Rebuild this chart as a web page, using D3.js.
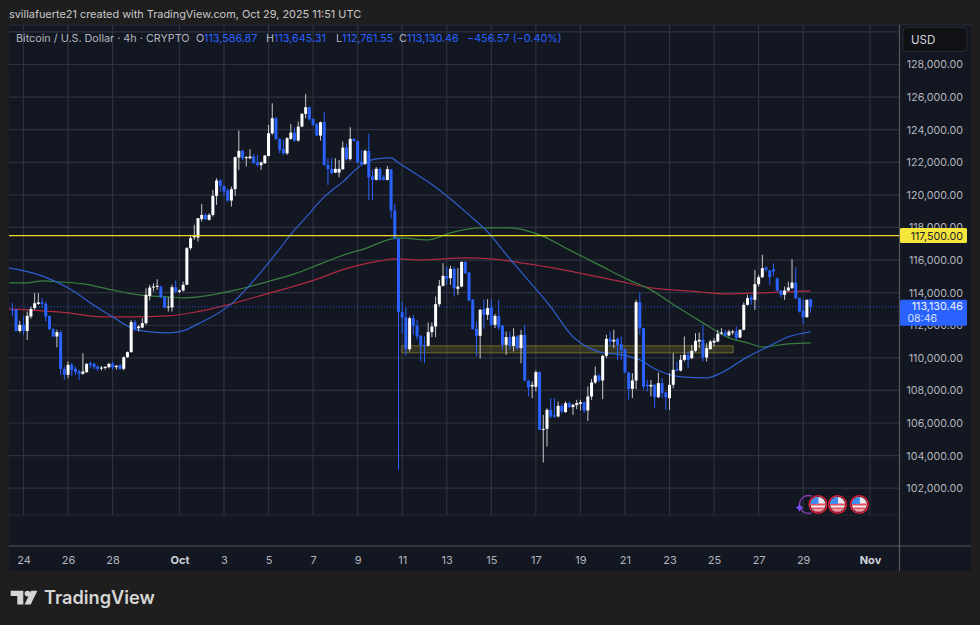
<!DOCTYPE html>
<html><head><meta charset="utf-8">
<script src="https://cdnjs.cloudflare.com/ajax/libs/d3/7.8.5/d3.min.js"></script>
<style>html,body{margin:0;padding:0;background:#1e1e1e;overflow:hidden}svg{display:block}text{font-family:Inter,"Liberation Sans",sans-serif}</style>
</head><body>
<script>
const firstCandle = "2025-09-23T12:00:00Z", candleHours = 4;
const opens = [112985,112950,111650,112025,111650,112535,113050,113310,113400,113310,112570,111760,111310,111575,109325,108960,109570,109325,109160,109020,109120,109670,109630,109470,109345,109405,109430,109630,109430,109550,109325,110040,110350,112190,111820,111860,112130,113800,114315,114355,114375,113720,113125,113090,114335,114050,114130,114480,116730,117400,117380,118510,118770,118470,118770,119940,120880,120550,120265,119650,120350,122290,122700,122250,122250,122350,122000,121820,121940,122390,123780,124700,123435,122800,122550,123435,123820,123330,124190,124970,125380,124660,124335,123640,124460,121840,121595,121370,121370,121575,122900,122190,123435,123310,122040,121900,122700,121125,120920,121595,121080,120920,121575,119040,117300,112800,112475,110530,112430,111960,111350,110800,110740,111575,111920,113290,114420,115030,114890,115460,114235,114375,115890,115235,113560,111780,111350,112985,112640,113090,112025,112575,111960,110800,111270,110735,111310,110595,111410,108590,108240,108220,109120,105580,105645,106810,106500,106400,107055,106670,107220,106975,107095,107175,107280,106770,107628,108487,108916,108610,110123,111166,111002,111166,110839,110532,109100,108098,108610,113415,111820,108344,108242,108344,107587,108446,107873,107526,108344,109305,109223,109877,110184,109980,110430,111002,111105,110021,110532,110941,111002,111514,111554,111370,111554,111616,111248,111718,113251,113720,113560,114520,114950,115540,115357,115440,114887,114130,113865,114130,114275,114620,113660,112900,112495,113586.87];
const closes = [112900,111650,112025,111650,112575,113000,113350,113400,113310,112535,111760,111310,111575,109325,108960,109570,109260,109120,109020,109160,109630,109570,109430,109325,109400,109440,109630,109410,109510,109325,110040,110350,112190,111780,111920,112130,113865,114315,114375,114420,113720,113090,113150,114335,114070,114130,114480,116730,117340,117500,118570,118770,118510,118770,119940,120880,120550,120200,119650,120350,122310,122700,122250,122310,122350,121940,121840,121980,122410,123780,124700,123435,122760,122550,123480,123820,123330,124190,124970,125380,124640,124295,123640,124460,121840,121595,121330,121595,121595,122900,122190,123435,123310,122000,121900,122700,121080,120920,121595,120920,120920,121575,119040,117340,112800,112475,110550,112430,111960,111310,110760,110760,111575,111920,113290,114420,115030,114845,115460,114275,114375,115890,115195,113520,111760,111350,112945,112640,113050,112025,112575,111880,110800,111270,110760,111310,110595,111410,108610,108180,108340,109120,105580,105640,106810,106400,106400,107055,106710,107220,106975,107115,107220,107280,106770,107628,108487,108916,108610,110123,111166,111002,111105,110798,110491,109100,108098,108610,113415,111820,108242,108242,108344,107587,108446,107833,107587,108344,109264,109223,109877,110184,109877,110430,111043,111105,110021,110593,111002,111043,111473,111554,111370,111616,111616,111207,111718,113251,113660,113560,114520,114950,115500,115400,114950,115300,114130,113865,114130,114315,114620,113660,112840,112495,113557,113130.46];
const highs = [113350,113000,112270,112535,112840,113150,113970,113970,113650,113450,112600,111820,111720,111680,109470,109775,109670,109470,109260,110285,109670,109770,109700,109530,109500,109500,109700,109770,109560,109620,110090,110390,112330,112330,112020,112430,114270,114480,114580,114825,114415,113760,113720,114480,114745,114210,114680,116800,117550,118160,118570,119450,118870,118870,120300,121020,120960,120610,120400,120510,122350,123950,122770,122390,122800,122500,122450,122040,122450,124290,125620,124800,123480,123370,123540,124350,124150,124500,125020,126180,125420,124700,124400,124500,125110,122250,122250,122250,122150,123270,123150,124150,123480,123310,122760,122780,123745,121530,121700,121700,121200,121780,121575,119450,117400,113455,113100,112530,112640,112330,111410,111310,112165,112165,113760,114785,115810,115600,115645,115600,115500,115910,115910,115280,113600,112230,113000,113560,113600,113600,112700,113560,112025,111615,111615,111820,111400,111720,112025,108650,108550,109225,109170,106500,106900,107525,107525,107320,107180,107320,107320,107180,107425,107425,107320,108240,108700,109470,109000,110184,111411,111616,111718,111248,111309,110560,109120,109060,113560,114008,111840,108650,108650,108400,109100,108753,107935,109060,110286,109775,110184,111309,110389,110798,111514,111554,112025,110900,111105,111207,111718,111820,111718,111718,111718,111923,111759,113400,113865,113865,115400,115090,116320,115620,115400,115800,114910,114170,114375,114680,116050,115560,113700,113560,113580,113645.31];
const lows = [112535,111600,111550,111410,111100,112400,112950,113250,113050,112230,111720,111270,110650,108960,108650,108750,108900,108960,108650,108960,109080,109350,109290,109180,109220,109270,109360,109270,109270,109260,109230,110000,110320,111620,111620,111820,112025,113520,114070,114170,113650,113050,112840,112840,113970,113970,114070,114480,116630,117240,117140,118360,118460,118420,118670,119390,120200,119940,119590,119285,119940,121530,122130,121740,122190,121900,121720,121530,121900,122350,123680,123370,122550,122450,122450,123380,123270,123270,124150,124700,124560,124240,123580,123330,121780,120610,121280,121330,121080,121530,122120,122100,123270,121940,121840,121840,119690,119690,120880,120880,120880,120880,118570,117260,103130,111500,110140,110390,111410,111100,109775,109670,110700,111270,111270,113150,114375,114480,114480,113760,113865,114330,115150,113460,111740,110090,109960,111780,112330,111920,111820,111720,110490,110185,110490,110390,110490,109670,108550,107630,107525,107935,105580,103580,104560,106300,106300,106340,106600,106620,106930,106500,106850,106770,106620,106135,107423,108400,108500,107465,109980,110695,110593,109877,109877,109060,107423,107526,108078,111411,108037,107935,107628,106912,107526,107526,106810,106810,108140,109162,109162,109775,109366,109918,110348,110593,109775,109775,110491,110695,110960,111411,111309,111309,111411,111105,111207,111677,113210,113251,112945,114376,114890,115290,114480,115000,114070,113720,113560,114070,114210,113600,112780,112085,112450,112761.55];

const maBlueAt = [-1,8,15,23,27,32,37,42,46,50,59,64,69,72,76,78,84,89,94,98,102,104,107,115,123,129,132,137,145,151,153,158,164,169,173,180,187,191,198,204,209,215];
const maBlue = [115520,115030,114295,113070,112515,111840,111595,111535,111655,112085,113313,114480,115830,116687,117853,118345,119875,120800,121840,122210,122270,121965,121535,120305,118770,117485,116625,115275,113130,111290,110920,110370,110185,109875,109325,108835,108770,109080,110060,110735,111290,111595];
const maGreenAt = [-1,4,8,12,19,27,34,42,46,50,59,69,76,83,91,94,104,112,118,126,134,142,150,158,166,172,179,186,193,198,202,209,215];
const maGreen = [114600,114600,114725,114665,114540,114170,113865,113740,113680,113740,114110,114693,115153,115767,116440,116625,117360,117240,117670,117975,117975,117545,116625,115705,114785,114170,113130,112145,111225,110920,110675,110860,110920];
const maRedAt = [-1,8,15,24,32,42,50,59,69,78,83,88,99,103,110,122,129,137,147,155,163,172,182,193,202,215];
const maRed = [113005,112885,112760,112515,112515,112575,112840,113313,113960,114540,114908,115335,115950,116075,116010,116135,116075,115830,115460,115090,114725,114295,114110,113925,113990,114110];

const priceTicks = [102000,104000,106000,108000,110000,112000,114000,116000,118000,120000,122000,124000,126000,128000];
const gridPrices = priceTicks.concat([130000]);
const dateTicks = ["2025-09-24","2025-09-26","2025-09-28","2025-10-01","2025-10-03","2025-10-05","2025-10-07","2025-10-09","2025-10-11","2025-10-13","2025-10-15","2025-10-17","2025-10-19","2025-10-21","2025-10-23","2025-10-25","2025-10-27","2025-10-29","2025-11-01"];
const dateLabels = ["24","26","28","Oct","3","5","7","9","11","13","15","17","19","21","23","25","27","29","Nov"];
const resistance = 117500, lastPrice = 113130.46;
const zoneTimes = ["2025-10-10T23:30:00Z","2025-10-25T20:30:00Z"], zonePrices = [110736,110307];
const flagTimes = ["2025-10-29T16:00:00Z","2025-10-30T13:00:00Z","2025-10-31T12:30:00Z"];
const starTime = "2025-10-28T20:00:00Z", eventPrice = 101000;

const W=980,H=625,panelL=9,panelR=971,panelT=25,panelB=571,axisX=899.5,paneBottom=515,timeY=546;
const svg=d3.select("body").append("svg").attr("width",W).attr("height",H);
svg.append("rect").attr("width",W).attr("height",H).attr("fill","#1e1e1e");
svg.append("rect").attr("x",panelL).attr("y",panelT).attr("width",panelR-panelL).attr("height",panelB-panelT).attr("fill","#131722");

const x=d3.scaleUtc().domain([new Date("2025-09-24T00:00:00Z"),new Date("2025-11-01T00:00:00Z")]).range([23.5,870]);
const y=d3.scaleLinear().domain([102000,128000]).range([488.2,64.5]);
const t0=+new Date(firstCandle), hour=3600e3;
const tOf=i=>new Date(t0+i*candleHours*hour);

svg.append("defs").append("clipPath").attr("id","plot").append("rect").attr("x",panelL).attr("y",panelT).attr("width",axisX-panelL).attr("height",timeY-panelT);

// grid
const grid=svg.append("g").attr("stroke","#2e3240").attr("stroke-width",1.2);
grid.selectAll(".h").data(gridPrices).join("line").attr("class","h").attr("x1",panelL).attr("x2",axisX).attr("y1",d=>y(d)).attr("y2",d=>y(d));
grid.selectAll(".v").data(dateTicks).join("line").attr("class","v").attr("x1",d=>x(new Date(d+"T00:00:00Z"))).attr("x2",d=>x(new Date(d+"T00:00:00Z"))).attr("y1",panelT).attr("y2",paneBottom);
svg.append("line").attr("x1",panelL).attr("x2",panelR).attr("y1",panelT).attr("y2",panelT).attr("stroke","#262a36");
svg.append("line").attr("x1",panelL).attr("x2",axisX).attr("y1",paneBottom).attr("y2",paneBottom).attr("stroke","#262a36");
svg.append("line").attr("x1",panelL).attr("x2",panelR).attr("y1",timeY).attr("y2",timeY).attr("stroke","#55585f").attr("stroke-width",1.2);
svg.append("line").attr("x1",axisX).attr("x2",axisX).attr("y1",panelT).attr("y2",panelB).attr("stroke","#55585f").attr("stroke-width",1.2);

const plot=svg.append("g").attr("clip-path","url(#plot)");
// zone
plot.append("rect").attr("x",x(new Date(zoneTimes[0]))).attr("width",x(new Date(zoneTimes[1]))-x(new Date(zoneTimes[0])))
 .attr("y",y(zonePrices[0])).attr("height",y(zonePrices[1])-y(zonePrices[0]))
 .attr("fill","#b8a62e").attr("fill-opacity",.2).attr("stroke","#6f682e").attr("stroke-width",1);
// moving averages
const line=(at,v)=>d3.line().x((d,i)=>x(tOf(at[i]))).y(d=>y(d)).curve(d3.curveMonotoneX)(v);
[[maRedAt,maRed,"#b02a40"],[maGreenAt,maGreen,"#39803f"],[maBlueAt,maBlue,"#2e5fcf"]].forEach(([a,v,c])=>{
 plot.append("path").attr("d",line(a,v)).attr("fill","none").attr("stroke",c).attr("stroke-width",1.2);
});
// last price dotted, resistance
plot.append("line").attr("x1",panelL).attr("x2",axisX).attr("y1",y(lastPrice)).attr("y2",y(lastPrice)).attr("stroke","#2962ff").attr("stroke-width",1).attr("stroke-dasharray","1 2").attr("stroke-opacity",.8);
// candles
const idx=d3.range(opens.length);
const colour=i=>closes[i]>=opens[i]?"#ffffff":"#2962ff";
const wickColour=i=>closes[i]>=opens[i]?"#c9c9cd":"#2962ff";
plot.append("g").selectAll("line").data(idx).join("line")
 .attr("x1",i=>x(tOf(i))).attr("x2",i=>x(tOf(i))).attr("y1",i=>y(highs[i])).attr("y2",i=>y(lows[i]))
 .attr("stroke",wickColour).attr("stroke-width",1);
plot.append("g").selectAll("rect").data(idx).join("rect")
 .attr("x",i=>x(tOf(i))-1.5).attr("width",3)
 .attr("y",i=>y(Math.max(opens[i],closes[i])))
 .attr("height",i=>Math.max(1,Math.abs(y(opens[i])-y(closes[i]))))
 .attr("fill",colour);
plot.append("line").attr("x1",panelL).attr("x2",axisX).attr("y1",y(resistance)).attr("y2",y(resistance)).attr("stroke","#eeda22").attr("stroke-width",1.3);

// events
const evY=y(eventPrice);
const starX=x(new Date(starTime));
plot.append("circle").attr("cx",starX+9).attr("cy",evY).attr("r",9).attr("fill","none").attr("stroke","#8e3fb5").attr("stroke-width",1.3);
plot.append("path").attr("transform",`translate(${starX},${evY+3})`).attr("d","M0-4.5Q.8-.8 4 0Q.8.8 0 4.5Q-.8.8-4 0Q-.8-.8 0-4.5Z").attr("fill","#7a4dff");
flagTimes.forEach((t,k)=>{
 const g=plot.append("g").attr("transform",`translate(${x(new Date(t))},${evY})`);
 g.append("circle").attr("r",10.4).attr("fill","#131722");
 g.append("clipPath").attr("id","f"+k).append("circle").attr("r",7.5);
 const c=g.append("g").attr("clip-path",`url(#f${k})`);
 c.append("rect").attr("x",-8).attr("y",-8).attr("width",16).attr("height",16).attr("fill","#ecedf2");
 [-1,3,6].forEach(s=>c.append("rect").attr("x",-8).attr("y",s).attr("width",16).attr("height",2).attr("fill","#e8505b"));
 c.append("rect").attr("x",-8).attr("y",-8).attr("width",8.5).attr("height",7.5).attr("fill","#3f8cf0");
 g.append("circle").attr("r",8.8).attr("fill","none").attr("stroke","#e0213a").attr("stroke-width",1.5);
});

// axes
const yAxis=d3.axisRight(y).tickValues(priceTicks).tickFormat(d3.format(",.2f")).tickSize(0);
const yg=svg.append("g").attr("transform",`translate(${axisX},0)`).call(yAxis);
yg.select(".domain").remove();
yg.selectAll("text").attr("x",63.5).attr("text-anchor","end").attr("fill","#b2b5be").style("font-size","10.7px").style("font-family","Inter");
const xAxis=d3.axisBottom(x).tickValues(dateTicks.map(d=>new Date(d+"T00:00:00Z"))).tickFormat((d,i)=>dateLabels[i]).tickSize(0);
const xg=svg.append("g").attr("transform",`translate(0,${timeY})`).call(xAxis);
xg.select(".domain").remove();
xg.selectAll("text").attr("y",10).attr("fill",(d,i)=>(dateLabels[i]=="Oct"||dateLabels[i]=="Nov")?"#d1d4dc":"#b2b5be")
 .style("font-weight",(d,i)=>(dateLabels[i]=="Oct"||dateLabels[i]=="Nov")?"700":"400").style("font-size","11px").style("font-family","Inter");

// price labels
const label=(py,ph,fill)=>svg.append("rect").attr("x",axisX+.5).attr("y",py).attr("width",67).attr("height",ph).attr("rx",1.5).attr("fill",fill);
label(y(resistance)-7.5,15,"#f5e63c");
svg.append("text").attr("x",963).attr("y",y(resistance)+4).attr("text-anchor","end").attr("fill","#222").style("font-size","10.7px").text(d3.format(",.2f")(resistance));
label(y(lastPrice)-7,26,"#2962ff");
svg.append("text").attr("x",963).attr("y",y(lastPrice)+3.5).attr("text-anchor","end").attr("fill","#f0f3fa").style("font-size","10.7px").text(d3.format(",.2f")(lastPrice));
svg.append("text").attr("x",907.5).attr("y",y(lastPrice)+15.5).attr("fill","#dbe4fb").style("font-size","10.5px").text("08:46");

// USD button
svg.append("rect").attr("x",903).attr("y",27.5).attr("width",64).attr("height",24).attr("rx",4).attr("fill","#101114").attr("stroke","#2a2b30");
svg.append("text").attr("x",911).attr("y",43.5).attr("fill","#d1d4dc").style("font-size","11.5px").text("USD");

// header
svg.append("text").attr("x",9).attr("y",18).attr("fill","#c9c9c9").style("font-size","10.9px").text("svillafuerte21 created with TradingView.com, Oct 29, 2025 11:51 UTC");
const legendGrey="#b2b5be",legendBlue="#2962ff";
const hd=[["Bitcoin / U.S. Dollar · 4h · CRYPTO",16,legendGrey],["O",196,legendGrey],["113,586.87",204,legendBlue],["H",266,legendGrey],["113,645.31",274,legendBlue],["L",336,legendGrey],["112,761.55",342,legendBlue],["C",399,legendGrey],["113,130.46",407,legendBlue],["−456.57 (−0.40%)",467,legendBlue]];
hd.forEach(([s,px,c])=>svg.append("text").attr("x",px).attr("y",42).attr("fill",c).style("font-size","10.8px").text(s));

// logo
const logo=svg.append("g").attr("fill","#d6d6d6");
logo.append("path").attr("d","M10.7 590.7H23.3V604.4H17.3V596H10.7Z");
logo.append("circle").attr("cx",27.5).attr("cy",593.6).attr("r",2.9);
logo.append("path").attr("d","M31 590.7H37.4L30.7 604.4H24.6Z");
svg.append("text").attr("x",44).attr("y",604).attr("fill","#d6d6d6").style("font-size","18.2px").style("font-weight","600").text("TradingView");
</script>
</body></html>
